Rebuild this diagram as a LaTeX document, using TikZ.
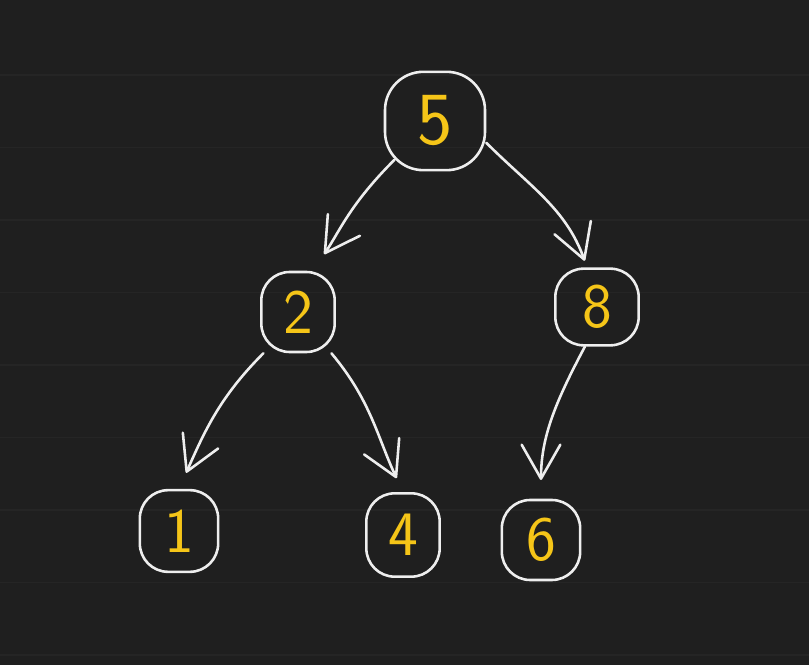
\documentclass[tikz,border=0pt]{standalone}
\usepackage{tikz}
\usetikzlibrary{arrows.meta}
\definecolor{board}{RGB}{31,31,31}
\definecolor{ruling}{RGB}{37,37,37}
\definecolor{chalk}{RGB}{238,238,238}
\definecolor{marker}{RGB}{245,197,24}

\begin{document}
\begin{tikzpicture}[x=0.03cm,y=0.03cm,
   key/.style={draw=chalk,line width=2.2pt,rounded corners=0.85cm,text=marker,
     font=\sffamily\fontsize{54}{54}\selectfont,inner sep=0pt},
   ruled/.style={ruling,line width=1.3pt},
   link/.style={chalk,line width=2.2pt,line cap=round,
     -{Straight Barb[length=29pt,width=33pt,round]}}]
  % board
  \useasboundingbox (0,0) rectangle (809,665);
  \fill[board] (0,0) rectangle (809,665);
  \foreach \k in {0,...,8}{\draw[ruled] (0,{10+72.5*\k}) -- (809,{10+72.5*\k});}
  % keys
  \node[key,minimum width=3cm,minimum height=2.95cm,rounded corners=1.15cm,
        font=\sffamily\fontsize{64}{64}\selectfont] (n5) at (435,544){5};
  \node[key,minimum width=2.2cm,minimum height=2.4cm] (n2) at (298,353){2};
  \node[key,minimum width=2.5cm,minimum height=2.3cm] (n8) at (597,358){8};
  \node[key,minimum width=2.35cm,minimum height=2.45cm] (n1) at (179,134){1};
  \node[key,minimum width=2.2cm,minimum height=2.5cm] (n4) at (403,130){4};
  \node[key,minimum width=2.35cm,minimum height=2.4cm] (n6) at (541,125){6};
  % child links
  \draw[link,shorten <=-13pt,shorten >=17pt] (n5.224) to[out=-135,in=56] (n2.70);
  \draw[link,shorten >=6pt] (n5.-23) to[out=-45,in=110] (n8.104);
  \draw[link,shorten >=15pt] (n2.230) to[out=-135,in=66] (n1.north);
  \draw[link,shorten >=13pt] (n2.-51) to[out=-50,in=115] (n4.north);
  \draw[link,shorten >=16pt] (n8.253) to[out=-118,in=90] (n6.north);
\end{tikzpicture}
\end{document}
